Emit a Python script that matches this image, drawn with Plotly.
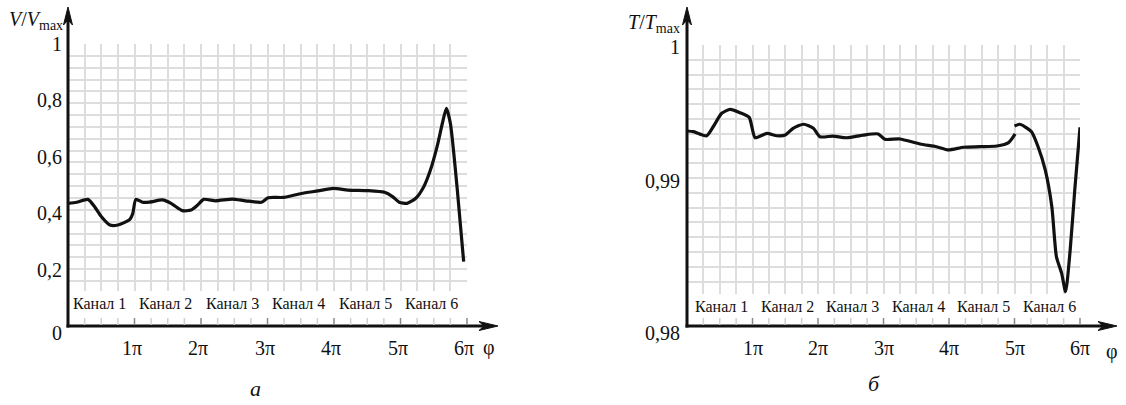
import plotly.graph_objects as go

W, H = 1126, 405

# ---------------- data ----------------
# panel a: V/Vmax versus phi (in units of pi)
phi_v = [0.00, 0.13, 0.30, 0.40, 0.50, 0.63, 0.75, 0.93, 0.975, 1.02, 1.12, 1.22,
         1.42, 1.55, 1.72, 1.85, 1.95, 2.04, 2.22, 2.47, 2.67, 2.91, 3.01, 3.24,
         3.51, 3.76, 3.99, 4.21, 4.51, 4.76, 4.88, 4.98, 5.10, 5.23, 5.35, 5.45,
         5.55, 5.63, 5.69, 5.75, 5.85, 5.95]
v_ratio = [0.435, 0.439, 0.449, 0.423, 0.388, 0.358, 0.358, 0.378, 0.400, 0.449, 0.439, 0.439,
           0.447, 0.435, 0.409, 0.411, 0.429, 0.449, 0.444, 0.450, 0.444, 0.439, 0.455, 0.456,
           0.470, 0.479, 0.488, 0.482, 0.480, 0.474, 0.459, 0.439, 0.435, 0.453, 0.494, 0.553,
           0.636, 0.719, 0.772, 0.719, 0.494, 0.228]

# panel b: T/Tmax versus phi (in units of pi); None = break in the drawn line
phi_t = [0.00, 0.10, 0.30, 0.40, 0.53, 0.66, 0.81, 0.95, 0.99, 1.04, 1.22, 1.37,
         1.50, 1.62, 1.78, 1.93, 2.03, 2.23, 2.44, 2.69, 2.92, 3.02, 3.25, 3.56,
         3.81, 3.99, 4.22, 4.47, 4.73, 4.91, 5.01, None,
         5.00, 5.08, 5.16, 5.26, 5.36, 5.47, 5.57, 5.64, 5.72, 5.78, 5.85, 5.92, 6.00]
t_ratio = [0.99388, 0.99383, 0.99354, 0.99418, 0.99514, 0.99542, 0.99518, 0.99485, 0.99418, 0.99340, 0.99371, 0.99354,
           0.99359, 0.99407, 0.99436, 0.99407, 0.99347, 0.99352, 0.99340, 0.99359, 0.99367, 0.99329, 0.99331, 0.99295,
           0.99276, 0.99253, 0.99272, 0.99276, 0.99281, 0.99305, 0.99367, None,
           0.99423, 0.99436, 0.99418, 0.99383, 0.99276, 0.99110, 0.98849, 0.98493, 0.98375, 0.98244, 0.98541, 0.98968, 0.99414]

channels = ["Канал 1", "Канал 2", "Канал 3", "Канал 4", "Канал 5", "Канал 6"]
x_ticks = [1, 2, 3, 4, 5, 6]
x_tick_text = ["1π", "2π", "3π", "4π", "5π", "6π"]
v_ticks = [0, 0.2, 0.4, 0.6, 0.8, 1]
v_tick_text = ["0", "0,2", "0,4", "0,6", "0,8", "1"]
t_ticks = [0.98, 0.99, 1.0]
t_tick_text = ["0,98", "0,99", "1"]
panel_letters = ["а", "б"]

# ---------------- styling / layout ----------------
FONT = "Liberation Serif"
INK = "#111111"
GRID = "#dddddd"


def pxp(x):
    return x / W


def pyp(y):
    return 1 - y / H


# pixel frames: x0/x1 = phi 0..6pi, top = value max, base = value min (axis line),
# grid_bot = lower edge of the gridded area
L = dict(x0=68, x1=467, top=44, base=326, grid_bot=291, vmin=0.0, vmax=1.0)
R = dict(x0=687, x1=1080, top=45, base=326, grid_bot=294, vmin=0.98, vmax=1.0)


def y_at(P, pix):
    return P["vmin"] + (P["vmax"] - P["vmin"]) * (P["base"] - pix) / (P["base"] - P["top"])


fig = go.Figure()
line_style = dict(color=INK, width=3.2, shape="spline", smoothing=0.6)
fig.add_trace(go.Scatter(x=phi_v, y=v_ratio, mode="lines", line=line_style,
                         xaxis="x", yaxis="y", hoverinfo="skip", showlegend=False))
fig.add_trace(go.Scatter(x=phi_t, y=t_ratio, mode="lines", line=line_style, connectgaps=False,
                         xaxis="x2", yaxis="y2", hoverinfo="skip", showlegend=False))

ax_common = dict(showgrid=True, gridcolor=GRID, gridwidth=1.5, zeroline=False, showline=False,
                 showticklabels=False, ticks="", fixedrange=True)

fig.update_layout(
    width=W, height=H, autosize=False,
    margin=dict(l=0, r=0, t=0, b=0),
    paper_bgcolor="white", plot_bgcolor="white", showlegend=False,
    font=dict(family=FONT, color=INK),
    xaxis=dict(domain=[pxp(L["x0"]), pxp(L["x1"])], range=[0, 6], tick0=0, dtick=0.25,
               anchor="y", **ax_common),
    yaxis=dict(domain=[pyp(L["grid_bot"]), pyp(L["top"])],
               range=[y_at(L, L["grid_bot"]), L["vmax"]], tick0=1, dtick=0.042,
               anchor="x", **ax_common),
    xaxis2=dict(domain=[pxp(R["x0"]), pxp(R["x1"])], range=[0, 6], tick0=0, dtick=0.25,
                anchor="y2", **ax_common),
    yaxis2=dict(domain=[pyp(R["grid_bot"]), pyp(R["top"])],
                range=[y_at(R, R["grid_bot"]), R["vmax"]], tick0=1, dtick=0.02 / 19,
                anchor="x2", **ax_common),
)

shapes = []


def arrow(tail, tip, vertical):
    (x0, y0), (tx, ty) = tail, tip
    if vertical:
        back = ty + 12
        shapes.append(dict(type="line", xref="paper", yref="paper",
                           x0=pxp(x0), y0=pyp(y0), x1=pxp(tx), y1=pyp(back),
                           line=dict(color=INK, width=3)))
        pts = [(tx, ty), (tx - 4.5, ty + 18), (tx, ty + 13), (tx + 4.5, ty + 18)]
    else:
        back = tx - 12
        shapes.append(dict(type="line", xref="paper", yref="paper",
                           x0=pxp(x0), y0=pyp(y0), x1=pxp(back), y1=pyp(ty),
                           line=dict(color=INK, width=3)))
        pts = [(tx, ty), (tx - 19, ty - 4.5), (tx - 14, ty), (tx - 19, ty + 4.5)]
    path = "M " + " L ".join(f"{pxp(a):.5f},{pyp(b):.5f}" for a, b in pts) + " Z"
    shapes.append(dict(type="path", xref="paper", yref="paper", path=path,
                       fillcolor=INK, line=dict(color=INK, width=1)))


arrow((L["x0"], L["base"] + 1.5), (L["x0"], 7), True)
arrow((L["x0"] - 1.5, L["base"]), (498, L["base"]), False)
arrow((R["x0"], R["base"] + 1.5), (R["x0"], 7), True)
arrow((R["x0"] - 1.5, R["base"]), (1117, R["base"]), False)

# faint grid stubs just above the phi axis
for P in (L, R):
    step = (P["x1"] - P["x0"]) / 24
    for k in range(1, 25):
        xx = P["x0"] + k * step
        shapes.append(dict(type="line", xref="paper", yref="paper",
                           x0=pxp(xx), x1=pxp(xx), y0=pyp(P["base"] - 1), y1=pyp(P["base"] - 8),
                           line=dict(color="#cfcfcf" if k % 4 else "#888888", width=1.5)))

fig.update_layout(shapes=shapes)

ann = []
TICK = dict(family=FONT, size=20, color=INK)
# y tick labels
for val, txt in zip(v_ticks, v_tick_text):
    pix = L["base"] - (val - L["vmin"]) / (L["vmax"] - L["vmin"]) * (L["base"] - L["top"])
    shift = 7 if val == v_ticks[0] else 0
    ann.append(dict(x=pxp(L["x0"] - 4), y=pyp(pix + shift), xref="paper", yref="paper",
                    text=txt, showarrow=False, xanchor="right", yanchor="middle", font=TICK))
t_shift = {0.98: 7, 0.99: -5, 1.0: 2}
for val, txt in zip(t_ticks, t_tick_text):
    pix = R["base"] - (val - R["vmin"]) / (R["vmax"] - R["vmin"]) * (R["base"] - R["top"])
    ann.append(dict(x=pxp(R["x0"] - 5), y=pyp(pix + t_shift.get(val, 0)), xref="paper", yref="paper",
                    text=txt, showarrow=False, xanchor="right", yanchor="middle", font=TICK))
# x tick labels
for P, xr, xs in ((L, "x", -3), (R, "x2", 0)):
    for val, txt in zip(x_ticks, x_tick_text):
        ann.append(dict(x=val, y=pyp(P["base"] + 22), xref=xr, yref="paper", text=txt,
                        showarrow=False, xanchor="center", yanchor="middle", xshift=xs, font=TICK))
# channel labels
for P, xr, ypix, xs in ((L, "x", 303, -2), (R, "x2", 306.5, 2)):
    for i, ch in enumerate(channels):
        ann.append(dict(x=i + 0.5, y=pyp(ypix), xref=xr, yref="paper", text=ch, showarrow=False,
                        xanchor="center", yanchor="middle", xshift=xs,
                        font=dict(family=FONT, size=16, color=INK)))
# phi labels
for x, y in ((489, 347), (1112, 351)):
    ann.append(dict(x=pxp(x), y=pyp(y), xref="paper", yref="paper", text="φ", showarrow=False,
                    xanchor="center", yanchor="middle", font=TICK))
# axis titles
ann.append(dict(x=pxp(65), y=pyp(21), xref="paper", yref="paper",
                text="<i>V</i>/<i>V</i><sub>max</sub>", showarrow=False,
                xanchor="right", yanchor="middle", font=dict(family=FONT, size=20, color=INK)))
ann.append(dict(x=pxp(682), y=pyp(24), xref="paper", yref="paper",
                text="<i>T</i>/<i>T</i><sub>max</sub>", showarrow=False,
                xanchor="right", yanchor="middle", font=dict(family=FONT, size=20, color=INK)))
# panel letters
for (x, y), s in zip(((255, 388), (874, 383)), panel_letters):
    ann.append(dict(x=pxp(x), y=pyp(y), xref="paper", yref="paper", text=f"<i>{s}</i>",
                    showarrow=False, xanchor="center", yanchor="middle",
                    font=dict(family=FONT, size=22, color=INK)))

fig.update_layout(annotations=ann)
fig.write_html("out.html", config={"displayModeBar": False},
               post_script="document.body.style.margin='0';document.body.style.overflow='hidden';")
